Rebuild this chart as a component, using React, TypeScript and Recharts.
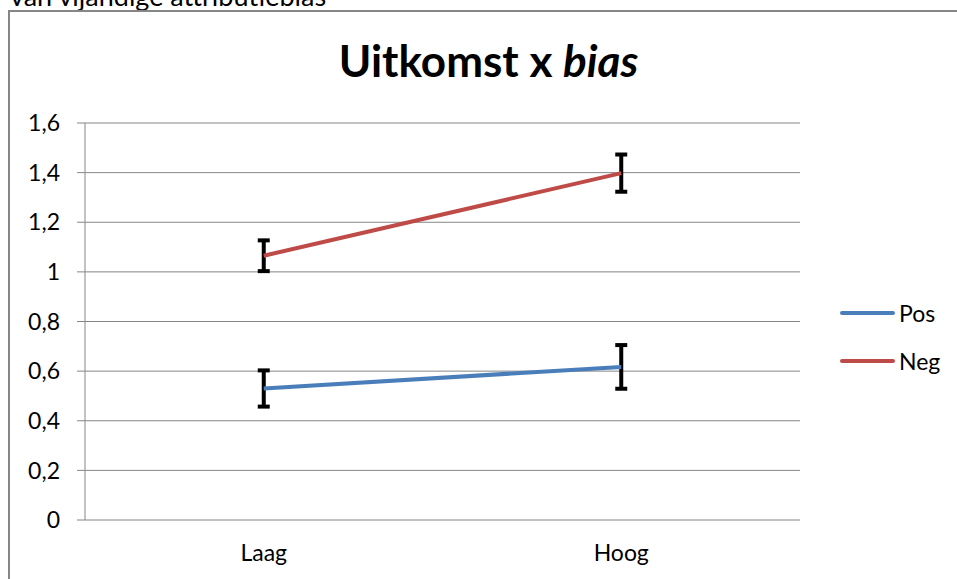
import React from 'react';
import { LineChart, Line, XAxis, YAxis, CartesianGrid, ErrorBar, Legend } from 'recharts';

const categories = ['Laag', 'Hoog'];
const categoryPositions = [0.5, 1.5];
const categoryBoundaries = [0, 1, 2];
const posValues = [0.53, 0.617];
const posErrors = [0.073, 0.088];
const negValues = [1.065, 1.398];
const negErrors = [0.062, 0.075];
const yTicks = [0, 0.2, 0.4, 0.6, 0.8, 1, 1.2, 1.4, 1.6];
const seriesNames = ['Pos', 'Neg'];
const seriesColors = ['#4a7ebb', '#be4b48'];

const data = categories.map((c, i) => ({
  name: c,
  x: categoryPositions[i],
  pos: posValues[i],
  posErr: posErrors[i],
  neg: negValues[i],
  negErr: negErrors[i],
}));

const FONT = 'Lato, "Open Sans", sans-serif';
const GREY = '#868686';

const fmt = (v: number) => String(Math.round(v * 10) / 10).replace('.', ',');

const LegendContent = () => (
  <div style={{ fontFamily: FONT, fontSize: 23, color: '#000' }}>
    {seriesNames.map((n, i) => (
      <div key={n} style={{ display: 'flex', alignItems: 'center', height: 48 }}>
        <svg width={60} height={10}>
          <line x1={7} y1={5} x2={58} y2={5} stroke={seriesColors[i]} strokeWidth={4} strokeLinecap="round" />
        </svg>
        <span style={{ marginLeft: 4 }}>{n}</span>
      </div>
    ))}
  </div>
);

export default function App() {
  return (
    <div style={{ position: 'absolute', left: 0, top: 0, width: 957, height: 579, overflow: 'hidden', background: '#fff' }}>
      <div style={{ position: 'absolute', left: 10, top: -18, fontFamily: FONT, fontSize: 27, lineHeight: '27px', whiteSpace: 'nowrap', color: '#000' }}>
        van vijandige attributiebias
      </div>
      <div style={{ position: 'absolute', left: 8, top: 10, width: 1000, height: 700, border: `2px solid ${GREY}`, boxSizing: 'border-box' }} />
      <div style={{ position: 'absolute', left: 0, top: 35, width: 977, textAlign: 'center', fontFamily: FONT, fontSize: 44, fontWeight: 700, lineHeight: '50px', color: '#000' }}>
        Uitkomst x <i>bias</i>
      </div>
      <div style={{ position: 'absolute', left: 0, top: 0 }}>
        <LineChart width={957} height={579} data={data} margin={{ top: 123, right: 157, bottom: 1, left: 10 }}>
          <CartesianGrid vertical={false} stroke={GREY} strokeWidth={1} />
          <XAxis
            xAxisId="ticks"
            dataKey="x"
            type="number"
            domain={[0, 2]}
            ticks={categoryBoundaries}
            tickFormatter={() => ''}
            height={0}
            tickSize={7}
            stroke={GREY}
            axisLine={{ stroke: GREY }}
            tickLine={{ stroke: GREY }}
          />
          <XAxis
            xAxisId="labels"
            dataKey="x"
            type="number"
            domain={[0, 2]}
            ticks={categoryPositions}
            tickFormatter={(v: number) => categories[categoryPositions.indexOf(v)] ?? ''}
            height={58}
            axisLine={false}
            tickLine={false}
            tickSize={0}
            tickMargin={25}
            tick={{ fill: '#000', fontFamily: FONT, fontSize: 23 }}
          />
          <YAxis
            domain={[0, 1.6]}
            ticks={yTicks}
            tickFormatter={fmt}
            width={75}
            tickSize={8}
            tickMargin={17}
            stroke={GREY}
            axisLine={{ stroke: GREY }}
            tickLine={{ stroke: GREY }}
            tick={{ fill: '#000', fontFamily: FONT, fontSize: 23 }}
            interval={0}
          />
          <Legend
            layout="horizontal"
            verticalAlign="middle"
            align="center"
            content={LegendContent}
            wrapperStyle={{ left: 835, top: 289, width: 122, height: 96 }}
          />
          <Line
            xAxisId="labels"
            dataKey="pos"
            name={seriesNames[0]}
            stroke={seriesColors[0]}
            strokeWidth={4}
            dot={false}
            isAnimationActive={false}
          >
            <ErrorBar dataKey="posErr" direction="y" width={6} stroke="#000" strokeWidth={4} isAnimationActive={false} />
          </Line>
          <Line
            xAxisId="labels"
            dataKey="neg"
            name={seriesNames[1]}
            stroke={seriesColors[1]}
            strokeWidth={4}
            dot={false}
            isAnimationActive={false}
          >
            <ErrorBar dataKey="negErr" direction="y" width={6} stroke="#000" strokeWidth={4} isAnimationActive={false} />
          </Line>
        </LineChart>
      </div>
    </div>
  );
}
